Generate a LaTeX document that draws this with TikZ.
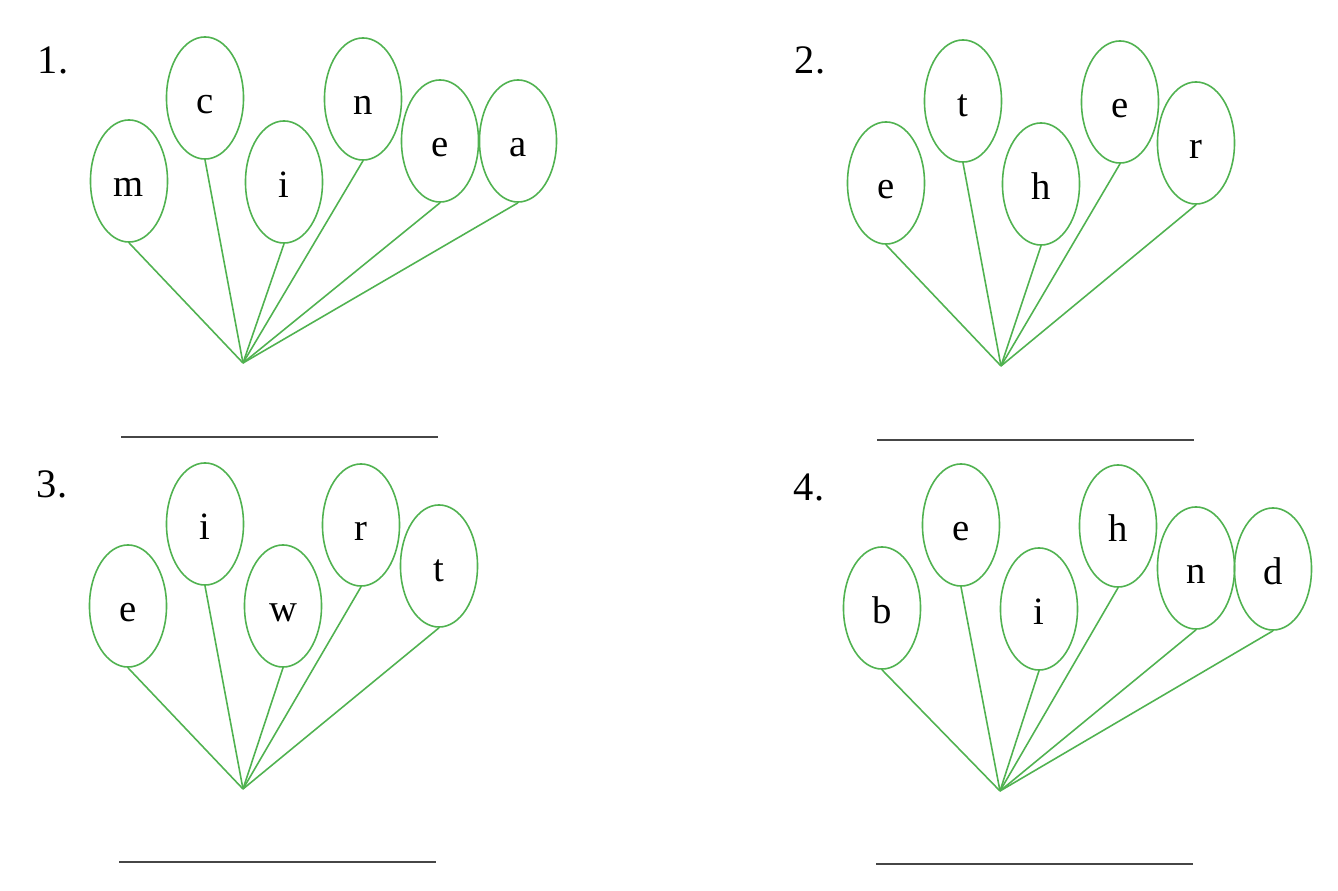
\documentclass[tikz,border=0pt]{standalone}
\usepackage{fontspec}
\setmainfont{Liberation Serif}
\usetikzlibrary{shapes,positioning}
\definecolor{balloongreen}{RGB}{80,178,80}
\definecolor{lineblack}{RGB}{70,70,70}

\begin{document}
\begin{tikzpicture}[
    x=0.01cm, y=-0.01cm,
    balloon/.style={ellipse, draw=balloongreen, line width=0.45pt, minimum width=0.77cm, minimum height=1.22cm, inner sep=0pt, text height=0.30cm, text depth=0pt, font=\fontsize{11}{13}\selectfont},
    num/.style={font=\fontsize{11.5}{14}\selectfont},
    stringline/.style={draw=balloongreen, line width=0.45pt},
    answer/.style={draw=lineblack, line width=0.6pt}
]
\useasboundingbox (0,0) rectangle (1338,891);

% Puzzle 1
\node[num] (num1) at (53,60) {1.};
\node[balloon] (a1) at (129,181) {m};
\node[balloon] (a2) at (205,98) {c};
\node[balloon] (a3) at (284,182) {i};
\node[balloon] (a4) at (363,99) {n};
\node[balloon] (a5) at (440,141) {e};
\node[balloon] (a6) at (518,141) {a};
\coordinate (knot1) at (243,363);
\coordinate (line1l) at (121,437);
\coordinate (line1r) at (438,437);

\draw[stringline] (a1.south) -- (knot1);
\draw[stringline] (a2.south) -- (knot1);
\draw[stringline] (a3.south) -- (knot1);
\draw[stringline] (a4.south) -- (knot1);
\draw[stringline] (a5.south) -- (knot1);
\draw[stringline] (a6.south) -- (knot1);
\draw[answer] (line1l) -- (line1r);

% Puzzle 2
\node[num] (num2) at (810,60) {2.};
\node[balloon] (b1) at (886,183) {e};
\node[balloon] (b2) at (963,101) {t};
\node[balloon] (b3) at (1041,184) {h};
\node[balloon] (b4) at (1120,102) {e};
\node[balloon] (b5) at (1196,143) {r};
\coordinate (knot2) at (1001,366);
\coordinate (line2l) at (877,440);
\coordinate (line2r) at (1194,440);

\draw[stringline] (b1.south) -- (knot2);
\draw[stringline] (b2.south) -- (knot2);
\draw[stringline] (b3.south) -- (knot2);
\draw[stringline] (b4.south) -- (knot2);
\draw[stringline] (b5.south) -- (knot2);
\draw[answer] (line2l) -- (line2r);

% Puzzle 3
\node[num] (num3) at (52,484) {3.};
\node[balloon] (c1) at (128,606) {e};
\node[balloon] (c2) at (205,524) {i};
\node[balloon] (c3) at (283,606) {w};
\node[balloon] (c4) at (361,525) {r};
\node[balloon] (c5) at (439,566) {t};
\coordinate (knot3) at (243,789);
\coordinate (line3l) at (119,862);
\coordinate (line3r) at (436,862);

\draw[stringline] (c1.south) -- (knot3);
\draw[stringline] (c2.south) -- (knot3);
\draw[stringline] (c3.south) -- (knot3);
\draw[stringline] (c4.south) -- (knot3);
\draw[stringline] (c5.south) -- (knot3);
\draw[answer] (line3l) -- (line3r);

% Puzzle 4
\node[num] (num4) at (809,487) {4.};
\node[balloon] (d1) at (882,608) {b};
\node[balloon] (d2) at (961,525) {e};
\node[balloon] (d3) at (1039,609) {i};
\node[balloon] (d4) at (1118,526) {h};
\node[balloon] (d5) at (1196,568) {n};
\node[balloon] (d6) at (1273,569) {d};
\coordinate (knot4) at (1000,791);
\coordinate (line4l) at (876,864);
\coordinate (line4r) at (1193,864);

\draw[stringline] (d1.south) -- (knot4);
\draw[stringline] (d2.south) -- (knot4);
\draw[stringline] (d3.south) -- (knot4);
\draw[stringline] (d4.south) -- (knot4);
\draw[stringline] (d5.south) -- (knot4);
\draw[stringline] (d6.south) -- (knot4);
\draw[answer] (line4l) -- (line4r);

\end{tikzpicture}
\end{document}
